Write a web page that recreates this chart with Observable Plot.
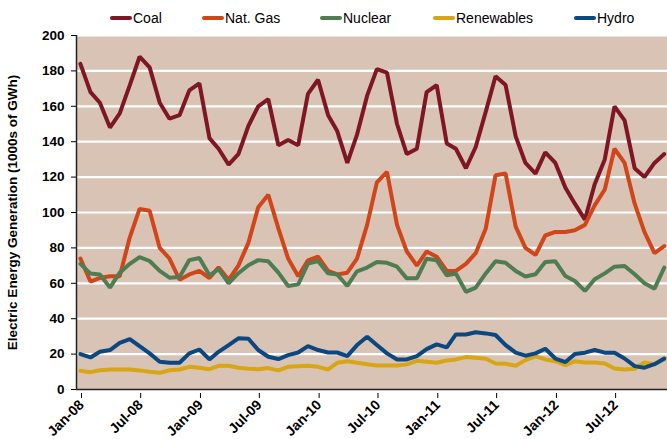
<!DOCTYPE html>
<html>
<head>
<meta charset="utf-8">
<script src="https://cdn.jsdelivr.net/npm/d3@7"></script>
<script src="https://cdn.jsdelivr.net/npm/@observablehq/plot@0.6"></script>
<style>
  body { margin: 0; background: #fff; font-family: "Liberation Sans", Arial, sans-serif; }
  #wrap { width: 667px; height: 439px; position: relative; overflow: hidden; }
  #legend { position: absolute; left: 0; top: 0; width: 667px; height: 30px; font-size: 14px; color: #000; z-index: 2; }
  .item { position: absolute; top: 10px; height: 16px; display: flex; align-items: center; white-space: nowrap; }
  .sw { width: 22px; height: 4px; border-radius: 2px; margin-right: 1px; }
  svg { display: block; }
</style>
</head>
<body>
<div id="wrap">
  <div id="chart"></div>
  <div id="legend"></div>
</div>
<script>
// ---- Data (1000s of GWh), monthly Jan-08 .. Dec-12 ----
const startMonth = "2008-01";
const seriesNames = ["Coal", "Nat. Gas", "Nuclear", "Renewables", "Hydro"];

const coal = [
  184, 168, 162, 148, 156, 172, 188, 182, 162, 153, 155, 169,
  173, 142, 136, 127, 133, 149, 160, 164, 138, 141, 138, 167,
  175, 155, 146, 128, 144, 166, 181, 179, 150, 133, 136, 168,
  172, 139, 136, 125, 137, 157, 177, 172, 143, 128, 122, 134,
  128, 114, 105, 96, 116, 130, 160, 152, 125, 120, 128, 133
];
const natGas = [
  74, 61, 63, 64, 64, 86, 102, 101, 80, 74, 62, 65,
  67, 63, 69, 62, 70, 83, 103, 110, 91, 74, 64, 73,
  75, 67, 65, 66, 74, 93, 117, 123, 93, 78, 70, 78,
  75, 67, 67, 71, 77, 91, 121, 122, 92, 80, 76, 87,
  89, 89, 90, 93, 104, 113, 136, 128, 105, 89, 77, 81
];
const nuclear = [
  71, 65.5, 65, 57.6, 66, 71, 74.8, 72.6, 67, 63.2, 63.6, 73.1,
  74.3, 64.5, 68, 60, 65.7, 70.2, 73.1, 72.4, 66, 58.5, 59.4, 71.1,
  72.6, 65.6, 65, 58.5, 66.8, 68.9, 72, 71.6, 69.4, 62.8, 62.8, 73.9,
  73, 64.5, 65.5, 55.2, 57.6, 65.6, 72.4, 71.6, 67, 63.8, 65.1, 72,
  72.4, 64.1, 61.3, 55.7, 62.3, 65.6, 69.4, 69.8, 65.1, 60, 57, 68.9
];
const renewables = [
  10.6, 9.8, 10.9, 11.3, 11.3, 11.3, 10.8, 10, 9.4, 10.9, 11.3, 12.8,
  12.3, 11.5, 13.4, 13.4, 12.3, 11.7, 11.5, 12.1, 10.8, 12.8, 13.2, 13.4,
  12.8, 11.3, 15.1, 16, 15.1, 14.3, 13.6, 13.6, 13.6, 14.2, 16.2, 15.7,
  15.1, 16.4, 17, 18.3, 17.9, 17.4, 14.7, 14.5, 13.4, 16.6, 18.7, 17,
  16, 13.8, 16, 15.3, 15.3, 14.7, 11.9, 11.3, 11.7, 15.3, 14.3, 17
];
const hydro = [
  20, 18.1, 21.3, 22.3, 26.4, 28.5, 24.5, 20.4, 15.7, 15.1, 15.1, 20.4,
  22.6, 17, 21.3, 25.1, 28.9, 28.7, 22.3, 18.5, 17.2, 19.4, 20.9, 24.5,
  22.3, 20.9, 20.9, 18.9, 25.1, 29.8, 25.1, 20.4, 17, 17, 18.9, 22.8,
  25.5, 23.8, 31.1, 31.1, 32.3, 31.7, 30.8, 25.1, 20.8, 19.1, 20.4, 23,
  17.5, 15.5, 20, 20.8, 22.3, 20.8, 20.8, 17.5, 13.2, 12.3, 14.3, 17.5
];

const xTickLabels = ["Jan-08", "Jul-08", "Jan-09", "Jul-09", "Jan-10",
                     "Jul-10", "Jan-11", "Jul-11", "Jan-12", "Jul-12"];
const yTicks = [0, 20, 40, 60, 80, 100, 120, 140, 160, 180, 200];
const yTitle = "Electric Energy Generation (1000s of GWh)";

// ---- Styles ----
const seriesColors = ["#7E1624", "#D0461A", "#4F7D52", "#D8A514", "#0B4780"];
const bgColor = "#D9C3B5";

// ---- Build table ----
const start = d3.utcParse("%Y-%m")(startMonth);
const allSeries = [coal, natGas, nuclear, renewables, hydro];
const rows = [];
allSeries.forEach((vals, s) => {
  vals.forEach((v, i) => {
    const m = d3.utcMonth.offset(start, i);
    rows.push({ series: seriesNames[s], date: d3.utcDay.offset(m, 12), value: v });
  });
});
const parseTick = d3.utcParse("%b-%y");
const tickDates = xTickLabels.map(parseTick);
const labelByTime = new Map(tickDates.map((d, i) => [+d, xTickLabels[i]]));
const xDomain = [start, d3.utcDay.offset(d3.utcMonth.offset(start, 60), -9)];

// ---- Legend ----
const legendLeft = [110, 202, 320, 433, 574];
const legend = document.getElementById("legend");
seriesNames.forEach((n, i) => {
  const it = document.createElement("div");
  it.className = "item";
  it.style.left = legendLeft[i] + "px";
  it.innerHTML = `<span class="sw" style="background:${seriesColors[i]}"></span><span>${n}</span>`;
  legend.appendChild(it);
});

// ---- Chart ----
const chart = Plot.plot({
  width: 667,
  height: 439,
  marginTop: 35,
  marginBottom: 50,
  marginLeft: 76,
  marginRight: 0,
  style: { fontFamily: "Liberation Sans, Arial, sans-serif", fontSize: "13px", color: "#000", background: "transparent" },
  x: { type: "utc", domain: xDomain },
  y: { domain: [0, 200] },
  color: { domain: seriesNames, range: seriesColors },
  marks: [
    Plot.frame({ fill: bgColor, stroke: "none" }),
    Plot.ruleY(yTicks.filter(d => d > 0), { stroke: "#fff", strokeWidth: 2.2 }),
    Plot.lineY(rows, { x: "date", y: "value", z: "series", stroke: "series", strokeWidth: 4, strokeLinejoin: "miter" }),
    Plot.axisY({ ticks: yTicks, tickSize: 5, tickPadding: 7, fontWeight: "bold", fontSize: 13.5,
                 label: yTitle, labelAnchor: "center", labelOffset: 69, labelArrow: false }),
    Plot.axisX({ ticks: tickDates, tickFormat: d => labelByTime.get(+d), tickRotate: -45, tickSize: 5,
                 tickPadding: 4, dx: 5, dy: 4, fontWeight: "bold", fontSize: 14, label: null }),
    Plot.ruleX([xDomain[0]], { stroke: "#222", strokeWidth: 1.5 }),
    Plot.ruleY([0], { stroke: "#222", strokeWidth: 1.5 })
  ]
});
document.getElementById("chart").appendChild(chart);
</script>
</body>
</html>
